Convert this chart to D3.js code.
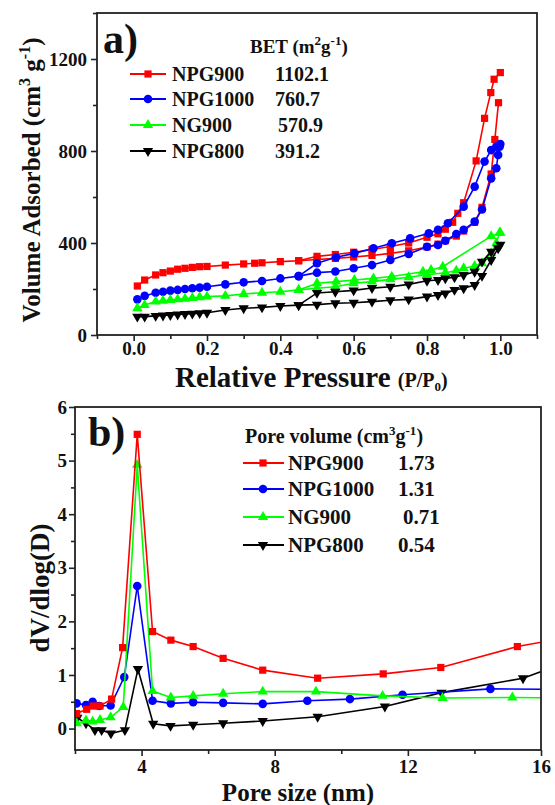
<!DOCTYPE html>
<html>
<head>
<meta charset="utf-8">
<script src="https://cdn.jsdelivr.net/npm/d3@7"></script>
<style>
  body { margin: 0; background: #fff; }
  svg { display: block; }
  text { font-family: "Liberation Serif", "Times New Roman", serif; font-weight: bold; fill: #111; }
</style>
</head>
<body>
<div id="chart"></div>
<script>
// ---- data: (a) N2 isotherms ----
const seriesNames = ['NPG900', 'NPG1000', 'NG900', 'NPG800'];
const betValues = ['1102.1', '760.7', '570.9', '391.2'];
const poreVolumes = ['1.73', '1.31', '0.71', '0.54'];
const colors = ['#ff0000', '#0000ff', '#00ff00', '#000000'];

const npg900AdsP = [0.01,0.03,0.06,0.08,0.10,0.12,0.14,0.16,0.18,0.20,0.25,0.30,0.33,0.35,0.40,0.45,0.50,0.55,0.60,0.65,0.70,0.75,0.80,0.83,0.85,0.88,0.90,0.93,0.95,0.975,0.985,0.995];
const npg900AdsV = [213,239,261,271,278,286,290,294,297,298,304,309,312,314,319,323,328,333,339,346,355,366,383,395,410,430,452,490,555,700,850,1010];
const npg900DesP = [1.0,0.983,0.974,0.957,0.934,0.90,0.884,0.87,0.85,0.83,0.80,0.75,0.70,0.65,0.60,0.55,0.50,0.45];
const npg900DesV = [1141,1112,1054,942,757,575,529,490,460,440,425,400,385,372,360,350,342,323];

const npg1000AdsP = [0.01,0.03,0.06,0.08,0.10,0.12,0.14,0.16,0.18,0.20,0.25,0.30,0.35,0.40,0.45,0.50,0.55,0.60,0.65,0.70,0.75,0.80,0.83,0.85,0.88,0.90,0.93,0.95,0.975,0.989,0.994,0.998];
const npg1000AdsV = [155,170,184,188,193,196,200,203,206,210,220,229,235,246,256,271,276,290,304,326,352,384,391,410,439,457,493,546,681,725,783,819];
const npg1000DesP = [1.0,0.989,0.975,0.957,0.93,0.90,0.857,0.83,0.805,0.754,0.704,0.654,0.602,0.552,0.50,0.45];
const npg1000DesV = [830,819,804,754,645,558,486,457,442,420,399,377,355,338,312,256];

const ng900AdsP = [0.01,0.03,0.06,0.08,0.10,0.12,0.14,0.16,0.18,0.20,0.25,0.30,0.35,0.40,0.45,0.50,0.55,0.60,0.65,0.70,0.75,0.80,0.85,0.88,0.90,0.93,0.95,0.975,0.989,0.998];
const ng900AdsV = [116,130,145,149,152,155,158,161,164,167,170,178,184,188,196,203,210,225,232,242,251,262,271,280,290,300,312,355,399,445];
const ng900DesP = [1.0,0.975,0.843,0.811,0.789,0.704,0.654,0.602,0.552,0.50,0.45];
const ng900DesV = [445,430,297,283,275,254,246,239,232,225,196];

const npg800AdsP = [0.01,0.03,0.06,0.08,0.10,0.12,0.14,0.16,0.18,0.20,0.25,0.30,0.35,0.40,0.45,0.50,0.55,0.60,0.65,0.70,0.75,0.80,0.83,0.85,0.875,0.90,0.93,0.95,0.975,0.994];
const npg800AdsV = [80,80,83,85,87,89,91,93,95,97,109,116,120,126,130,132,138,140,145,151,155,167,174,181,196,203,217,257,326,377];
const npg800DesP = [1.0,0.975,0.95,0.93,0.90,0.875,0.85,0.83,0.80,0.75,0.70,0.65,0.60,0.55,0.50,0.45];
const npg800DesV = [392,362,319,275,261,251,246,239,236,220,210,204,194,188,183,130];

// ---- data: (b) pore size distribution ----
const npg900Size = [2.05,2.35,2.55,2.75,3.10,3.43,3.87,4.33,4.88,5.55,6.45,7.64,9.29,11.26,12.99,15.29,16.6];
const npg900Dv   = [0.28,0.36,0.42,0.42,0.55,1.51,5.49,1.81,1.65,1.53,1.31,1.09,0.94,1.02,1.14,1.53,1.68];
const npg1000Size = [2.05,2.33,2.53,2.73,3.07,3.48,3.87,4.33,4.88,5.55,6.45,7.64,8.98,10.26,11.84,14.48,16.6];
const npg1000Dv   = [0.47,0.44,0.50,0.42,0.43,0.96,2.66,0.52,0.47,0.49,0.48,0.46,0.52,0.55,0.63,0.74,0.73];
const ng900Size = [2.05,2.33,2.53,2.75,3.07,3.45,3.87,4.33,4.88,5.55,6.45,7.64,9.24,11.24,13.04,15.14,16.6];
const ng900Dv   = [0.10,0.15,0.13,0.16,0.21,0.40,4.92,0.70,0.58,0.61,0.65,0.69,0.69,0.61,0.57,0.58,0.57];
const npg800Size = [2.07,2.33,2.60,2.80,3.08,3.50,3.89,4.35,4.87,5.55,6.45,7.64,9.29,11.31,13.01,15.46,16.6];
const npg800Dv   = [0.20,0.10,-0.03,-0.03,-0.09,-0.03,1.11,0.09,0.05,0.07,0.10,0.14,0.22,0.41,0.67,0.94,1.20];

const isotherms = [
  { ads: [npg900AdsP, npg900AdsV], des: [npg900DesP, npg900DesV] },
  { ads: [npg1000AdsP, npg1000AdsV], des: [npg1000DesP, npg1000DesV] },
  { ads: [ng900AdsP, ng900AdsV], des: [ng900DesP, ng900DesV] },
  { ads: [npg800AdsP, npg800AdsV], des: [npg800DesP, npg800DesV] }
];
const psd = [[npg900Size, npg900Dv], [npg1000Size, npg1000Dv], [ng900Size, ng900Dv], [npg800Size, npg800Dv]];

const width = 555, height = 805;
const zip = (xs, ys) => xs.map((x, i) => [x, ys[i]]);

const svg = d3.select('#chart').append('svg')
  .attr('width', width).attr('height', height);

// marker shapes per series
const symbols = [d3.symbolSquare, d3.symbolCircle, d3.symbolTriangle, d3.symbolTriangle];
const symSizes = [52, 58, 46, 46];
function marker(sel, i, x, y) {
  sel.append('path')
    .attr('d', d3.symbol().type(symbols[i]).size(symSizes[i])())
    .attr('transform', `translate(${x},${y})` + (i === 3 ? ' rotate(180)' : ''))
    .attr('fill', colors[i]);
}

function styleAxis(g) {
  g.select('.domain').remove();
  g.selectAll('.tick line').attr('stroke', '#222').attr('stroke-width', 1.6);
  g.selectAll('text').attr('font-size', 19).attr('fill', '#111');
}

// ================= panel (a) =================
const xA = d3.scaleLinear().domain([-0.1, 1.1]).range([97, 537]);
const yA = d3.scaleLinear().domain([0, 1400]).range([335, 13]);

const gA = svg.append('g');
const lineA = d3.line().x(d => xA(d[0])).y(d => yA(d[1]));

isotherms.forEach((s, i) => {
  [s.ads, s.des].forEach(b => {
    const pts = zip(b[0], b[1]);
    gA.append('path').datum(pts)
      .attr('d', lineA).attr('fill', 'none')
      .attr('stroke', colors[i]).attr('stroke-width', 1.6);
    pts.forEach(p => marker(gA, i, xA(p[0]), yA(p[1])));
  });
});

// axes (a)
const xTicksA = d3.range(-1, 12).map(k => k / 10);
gA.append('g').attr('transform', 'translate(0,335)')
  .call(d3.axisBottom(xA).tickValues(xTicksA)
    .tickSize(0).tickPadding(7)
    .tickFormat(d => (Math.round(d * 10) % 2 === 0 && d >= 0 && d <= 1.0001) ? d3.format('.1f')(d) : ''))
  .call(styleAxis)
  .call(g => g.selectAll('.tick line').attr('y2', d => (Math.round(d * 10) % 2 === 0 ? 6 : 4)));

const yTicksA = d3.range(0, 1401, 200);
gA.append('g').attr('transform', 'translate(97,0)')
  .call(d3.axisLeft(yA).tickValues(yTicksA).tickSize(0).tickPadding(10)
    .tickFormat(d => (d % 400 === 0 && d < 1400) ? d : ''))
  .call(styleAxis)
  .call(g => g.selectAll('.tick line').attr('x2', d => (d % 400 === 0 ? -6 : -4)));

gA.append('rect').attr('x', 97).attr('y', 13).attr('width', 440).attr('height', 322)
  .attr('fill', 'none').attr('stroke', '#222').attr('stroke-width', 1.8);

gA.append('text').attr('x', 103).attr('y', 53).attr('font-size', 42).text('a)');

// y title (a)
const ytA = gA.append('text').attr('transform', 'translate(40,180) rotate(-90)')
  .attr('text-anchor', 'middle').attr('font-size', 25);
ytA.append('tspan').text('Volume Adsorbed (cm');
ytA.append('tspan').attr('dy', -10).attr('font-size', 16).text('3');
ytA.append('tspan').attr('dy', 10).text(' g');
ytA.append('tspan').attr('dy', -10).attr('font-size', 16).text('-1');
ytA.append('tspan').attr('dy', 10).text(')');

// x title (a)
const xtA = gA.append('text').attr('x', 175).attr('y', 387).attr('font-size', 29);
xtA.append('tspan').text('Relative Pressure ');
xtA.append('tspan').attr('font-size', 20).text('(P/P');
xtA.append('tspan').attr('font-size', 13).attr('dy', 4).text('0');
xtA.append('tspan').attr('font-size', 20).attr('dy', -4).text(')');

// legend (a)
const betHead = gA.append('text').attr('x', 250).attr('y', 53).attr('font-size', 19);
betHead.append('tspan').text('BET (m');
betHead.append('tspan').attr('dy', -8).attr('font-size', 13).text('2');
betHead.append('tspan').attr('dy', 8).text('g');
betHead.append('tspan').attr('dy', -8).attr('font-size', 13).text('-1');
betHead.append('tspan').attr('dy', 8).text(')');

const legYA = [74, 99, 125, 151];
seriesNames.forEach((n, i) => {
  const y = legYA[i];
  gA.append('line').attr('x1', 130).attr('x2', 166).attr('y1', y).attr('y2', y)
    .attr('stroke', colors[i]).attr('stroke-width', 1.8);
  marker(gA, i, 148, y);
  gA.append('text').attr('x', 172).attr('y', y + 7).attr('font-size', 20).text(n);
  gA.append('text').attr('x', i === 2 ? 278 : 275).attr('y', y + 7).attr('font-size', 20).text(betValues[i]);
});

// ================= panel (b) =================
const xB = d3.scaleLinear().domain([2, 16]).range([75, 541]);
const yB = d3.scaleLinear().domain([-0.4, 6]).range([750, 407]);

const gB = svg.append('g');
svg.append('defs').append('clipPath').attr('id', 'clipB')
  .append('rect').attr('x', 75).attr('y', 407).attr('width', 466).attr('height', 343);

const plotB = gB.append('g').attr('clip-path', 'url(#clipB)');
const lineB = d3.line().x(d => xB(d[0])).y(d => yB(d[1]));

// draw black first, red last (red on top near the peak)
[3, 1, 2, 0].forEach(i => {
  const pts = zip(psd[i][0], psd[i][1]);
  plotB.append('path').datum(pts)
    .attr('d', lineB).attr('fill', 'none')
    .attr('stroke', colors[i]).attr('stroke-width', 1.6);
  pts.forEach(p => marker(plotB, i, xB(p[0]), yB(p[1])));
});

gB.append('g').attr('transform', 'translate(0,750)')
  .call(d3.axisBottom(xB).tickValues(d3.range(2, 17, 2)).tickSize(0).tickPadding(10)
    .tickFormat(d => (d % 4 === 0 ? d : '')))
  .call(styleAxis)
  .call(g => g.selectAll('.tick line').attr('y2', d => (d % 4 === 0 ? 6 : 4)));

gB.append('g').attr('transform', 'translate(75,0)')
  .call(d3.axisLeft(yB).tickValues(d3.range(0, 6.01, 0.5)).tickSize(0).tickPadding(8)
    .tickFormat(d => (d % 1 === 0 ? d : '')))
  .call(styleAxis)
  .call(g => g.selectAll('.tick line').attr('x2', d => (d % 1 === 0 ? -6 : -4)));

gB.append('rect').attr('x', 75).attr('y', 407).attr('width', 466).attr('height', 343)
  .attr('fill', 'none').attr('stroke', '#222').attr('stroke-width', 1.8);

gB.append('text').attr('x', 88).attr('y', 446).attr('font-size', 42).text('b)');

gB.append('text').attr('transform', 'translate(49,588) rotate(-90)')
  .attr('text-anchor', 'middle').attr('font-size', 27).text('dV/dlog(D)');

gB.append('text').attr('x', 298).attr('y', 801).attr('text-anchor', 'middle')
  .attr('font-size', 25).text('Pore size (nm)');

// legend (b)
const pvHead = gB.append('text').attr('x', 245).attr('y', 443).attr('font-size', 20);
pvHead.append('tspan').text('Pore volume (cm');
pvHead.append('tspan').attr('dy', -8).attr('font-size', 13).text('3');
pvHead.append('tspan').attr('dy', 8).text('g');
pvHead.append('tspan').attr('dy', -8).attr('font-size', 13).text('-1');
pvHead.append('tspan').attr('dy', 8).text(')');

const legYB = [463, 489, 517, 545];
seriesNames.forEach((n, i) => {
  const y = legYB[i];
  gB.append('line').attr('x1', 243).attr('x2', 284).attr('y1', y).attr('y2', y)
    .attr('stroke', colors[i]).attr('stroke-width', 1.8);
  marker(gB, i, 263, y);
  gB.append('text').attr('x', 288).attr('y', y + 7).attr('font-size', 21).text(n);
  gB.append('text').attr('x', i === 2 ? 403 : 398).attr('y', y + 7).attr('font-size', 21).text(poreVolumes[i]);
});
</script>
</body>
</html>
